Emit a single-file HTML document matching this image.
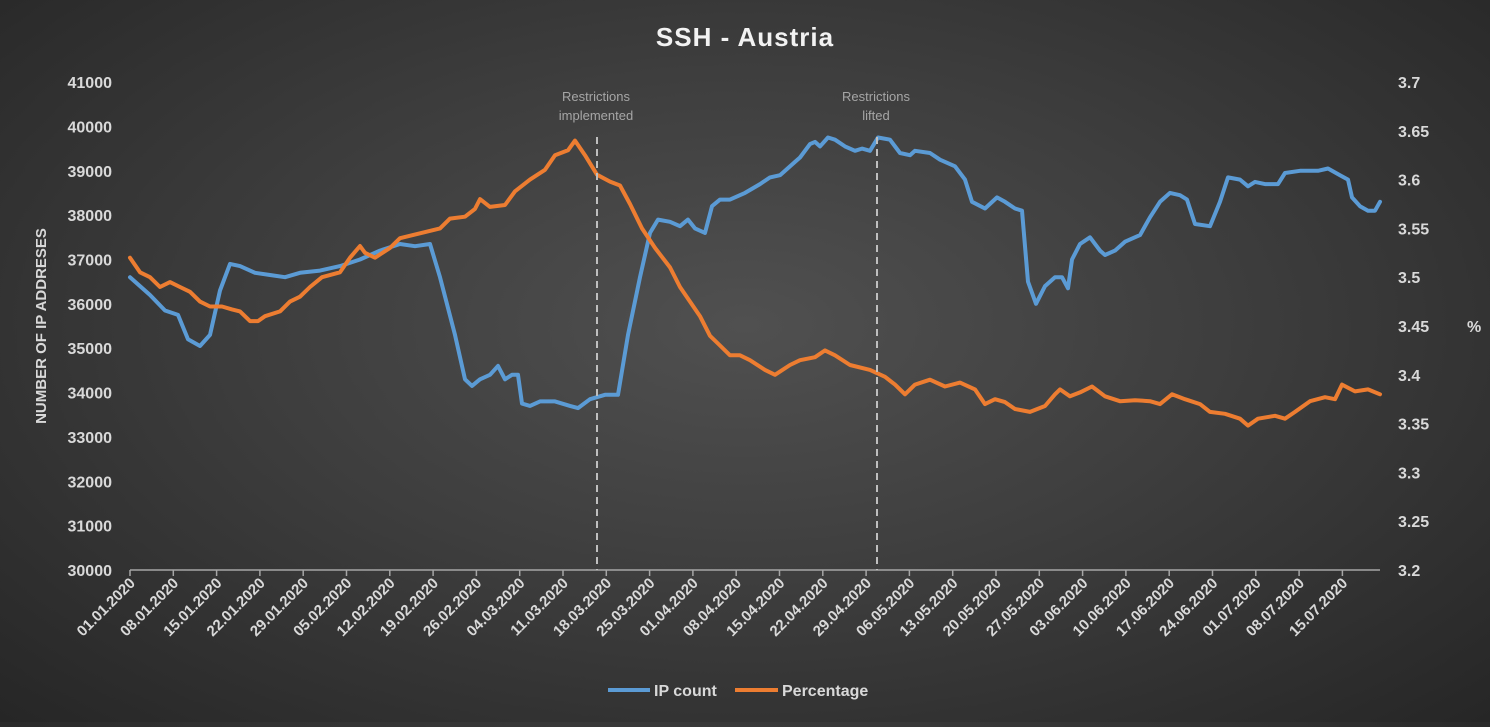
<!DOCTYPE html>
<html><head><meta charset="utf-8"><style>
html,body{margin:0;padding:0;}
body{width:1490px;height:722px;overflow:hidden;background:radial-gradient(ellipse at 50% 45%,#505050 0%,#3e3e3e 45%,#262626 100%);font-family:"Liberation Sans",sans-serif;}
svg text{font-family:"Liberation Sans",sans-serif;}
</style></head><body>
<svg id="s" width="1490" height="722" xmlns="http://www.w3.org/2000/svg">
<text x="745" y="46" text-anchor="middle" fill="#f2f2f2" font-size="26" font-weight="bold" letter-spacing="1">SSH - Austria</text>
<g id="g"></g>
<line x1="130" y1="570" x2="1380" y2="570" stroke="#a6a6a6" stroke-width="1.5"/>
<line x1="597" y1="137" x2="597" y2="570" stroke="#bfbfbf" stroke-width="2" stroke-dasharray="7,5"/>
<line x1="877" y1="137" x2="877" y2="570" stroke="#bfbfbf" stroke-width="2" stroke-dasharray="7,5"/>
<text x="596" y="101" text-anchor="middle" fill="#a6a6a6" font-size="13">Restrictions</text>
<text x="596" y="120" text-anchor="middle" fill="#a6a6a6" font-size="13">implemented</text>
<text x="876" y="101" text-anchor="middle" fill="#a6a6a6" font-size="13">Restrictions</text>
<text x="876" y="120" text-anchor="middle" fill="#a6a6a6" font-size="13">lifted</text>
<text transform="translate(46,326) rotate(-90)" text-anchor="middle" fill="#d9d9d9" font-size="15" font-weight="bold">NUMBER OF IP ADDRESES</text>
<text x="1467" y="332" fill="#d9d9d9" font-size="16" font-weight="bold">%</text>
<line x1="608" y1="690" x2="650" y2="690" stroke="#5b9bd5" stroke-width="4"/>
<text x="654" y="696" fill="#d9d9d9" font-size="16" font-weight="bold">IP count</text>
<line x1="735" y1="690" x2="778" y2="690" stroke="#ed7d31" stroke-width="4"/>
<text x="782" y="696" fill="#d9d9d9" font-size="16" font-weight="bold">Percentage</text>
</svg>
<script>
var g=document.getElementById('g'),h='';
for(var i=0;i<=11;i++){var y=570-i*44.36;h+='<text x="112" y="'+(y+6)+'" text-anchor="end" fill="#d9d9d9" font-size="16" font-weight="bold">'+(30000+i*1000)+'</text>';
var p=(3.2+i*0.05).toFixed(2).replace(/0$/,'').replace(/\.0$/,'').replace(/\.$/,'');var yy=570-i*48.8;if(i<=10)h+='<text x="1398" y="'+(yy+6)+'" fill="#d9d9d9" font-size="16" font-weight="bold">'+p+'</text>';}
var d=new Date(2020,0,1);
for(var k=0;k<=28;k++){var x=130+k*43.3;var dd=new Date(2020,0,1+7*k);var s=('0'+dd.getDate()).slice(-2)+'.'+('0'+(dd.getMonth()+1)).slice(-2)+'.2020';
h+='<line x1="'+x+'" y1="570" x2="'+x+'" y2="576" stroke="#a6a6a6" stroke-width="1.5"/>';
h+='<text transform="translate('+(x+6)+',584) rotate(-45)" text-anchor="end" fill="#d9d9d9" font-size="15" font-weight="bold">'+s+'</text>';}
var B=[130,36600,150,36200,165,35850,178,35750,188,35200,200,35050,210,35300,220,36300,230,36900,240,36850,255,36700,270,36650,285,36600,300,36700,320,36750,340,36850,360,37000,380,37200,400,37350,415,37300,430,37350,440,36600,455,35300,465,34300,472,34150,480,34300,490,34400,498,34600,505,34300,512,34400,518,34400,522,33750,530,33700,540,33800,555,33800,570,33700,578,33650,590,33850,605,33950,618,33950,628,35300,640,36600,650,37600,658,37900,670,37850,680,37750,688,37900,695,37700,705,37600,712,38200,720,38350,730,38350,745,38500,760,38700,770,38850,780,38900,795,39200,800,39300,810,39600,815,39650,820,39550,828,39750,835,39700,845,39550,855,39450,862,39500,870,39450,878,39750,890,39700,900,39400,910,39350,915,39450,930,39400,940,39250,955,39100,965,38800,972,38300,985,38150,997,38400,1005,38300,1015,38150,1022,38100,1028,36500,1036,36000,1045,36400,1055,36600,1062,36600,1068,36350,1072,37000,1080,37350,1090,37500,1100,37200,1105,37100,1115,37200,1125,37400,1140,37550,1150,37950,1160,38300,1170,38500,1180,38450,1187,38350,1195,37800,1210,37750,1220,38300,1228,38850,1240,38800,1248,38650,1255,38750,1265,38700,1278,38700,1285,38950,1300,39000,1318,39000,1328,39050,1340,38900,1348,38800,1352,38400,1360,38200,1368,38100,1375,38100,1380,38300];
var O=[130,3.52,140,3.505,150,3.5,160,3.49,170,3.495,180,3.49,190,3.485,200,3.475,210,3.47,222,3.47,232,3.467,240,3.465,250,3.455,258,3.455,265,3.46,280,3.465,290,3.475,300,3.48,310,3.49,322,3.5,340,3.505,350,3.52,360,3.532,365,3.525,375,3.52,390,3.53,400,3.54,420,3.545,440,3.55,450,3.56,465,3.562,475,3.57,480,3.58,490,3.572,505,3.574,515,3.588,530,3.6,545,3.61,555,3.625,568,3.63,575,3.64,585,3.625,597,3.605,610,3.598,620,3.594,630,3.575,642,3.55,655,3.53,670,3.51,680,3.49,690,3.475,700,3.46,710,3.44,720,3.43,730,3.42,740,3.42,750,3.415,765,3.405,775,3.4,790,3.41,800,3.415,815,3.418,825,3.425,835,3.42,850,3.41,870,3.405,885,3.398,895,3.39,905,3.38,915,3.39,930,3.395,945,3.388,960,3.392,975,3.385,985,3.37,995,3.375,1005,3.372,1015,3.365,1030,3.362,1045,3.368,1055,3.38,1060,3.385,1070,3.378,1080,3.382,1092,3.388,1105,3.378,1120,3.373,1135,3.374,1150,3.373,1160,3.37,1172,3.38,1185,3.375,1200,3.37,1210,3.362,1225,3.36,1240,3.355,1248,3.348,1258,3.355,1275,3.358,1285,3.355,1295,3.362,1310,3.373,1325,3.377,1335,3.375,1342,3.39,1355,3.383,1368,3.385,1380,3.38];
function P(a,f){var s='';for(var i=0;i<a.length;i+=2)s+=(i?'L':'M')+a[i]+' '+f(a[i+1]).toFixed(1);return s;}
h+='<path d="'+P(B,function(v){return 570-(v-30000)*0.04436})+'" fill="none" stroke="#5b9bd5" stroke-width="4" stroke-linejoin="round" stroke-linecap="round"/>';
h+='<path d="'+P(O,function(v){return 570-(v-3.2)*976})+'" fill="none" stroke="#ed7d31" stroke-width="4" stroke-linejoin="round" stroke-linecap="round"/>';
g.innerHTML=h;
</script>
</body></html>
